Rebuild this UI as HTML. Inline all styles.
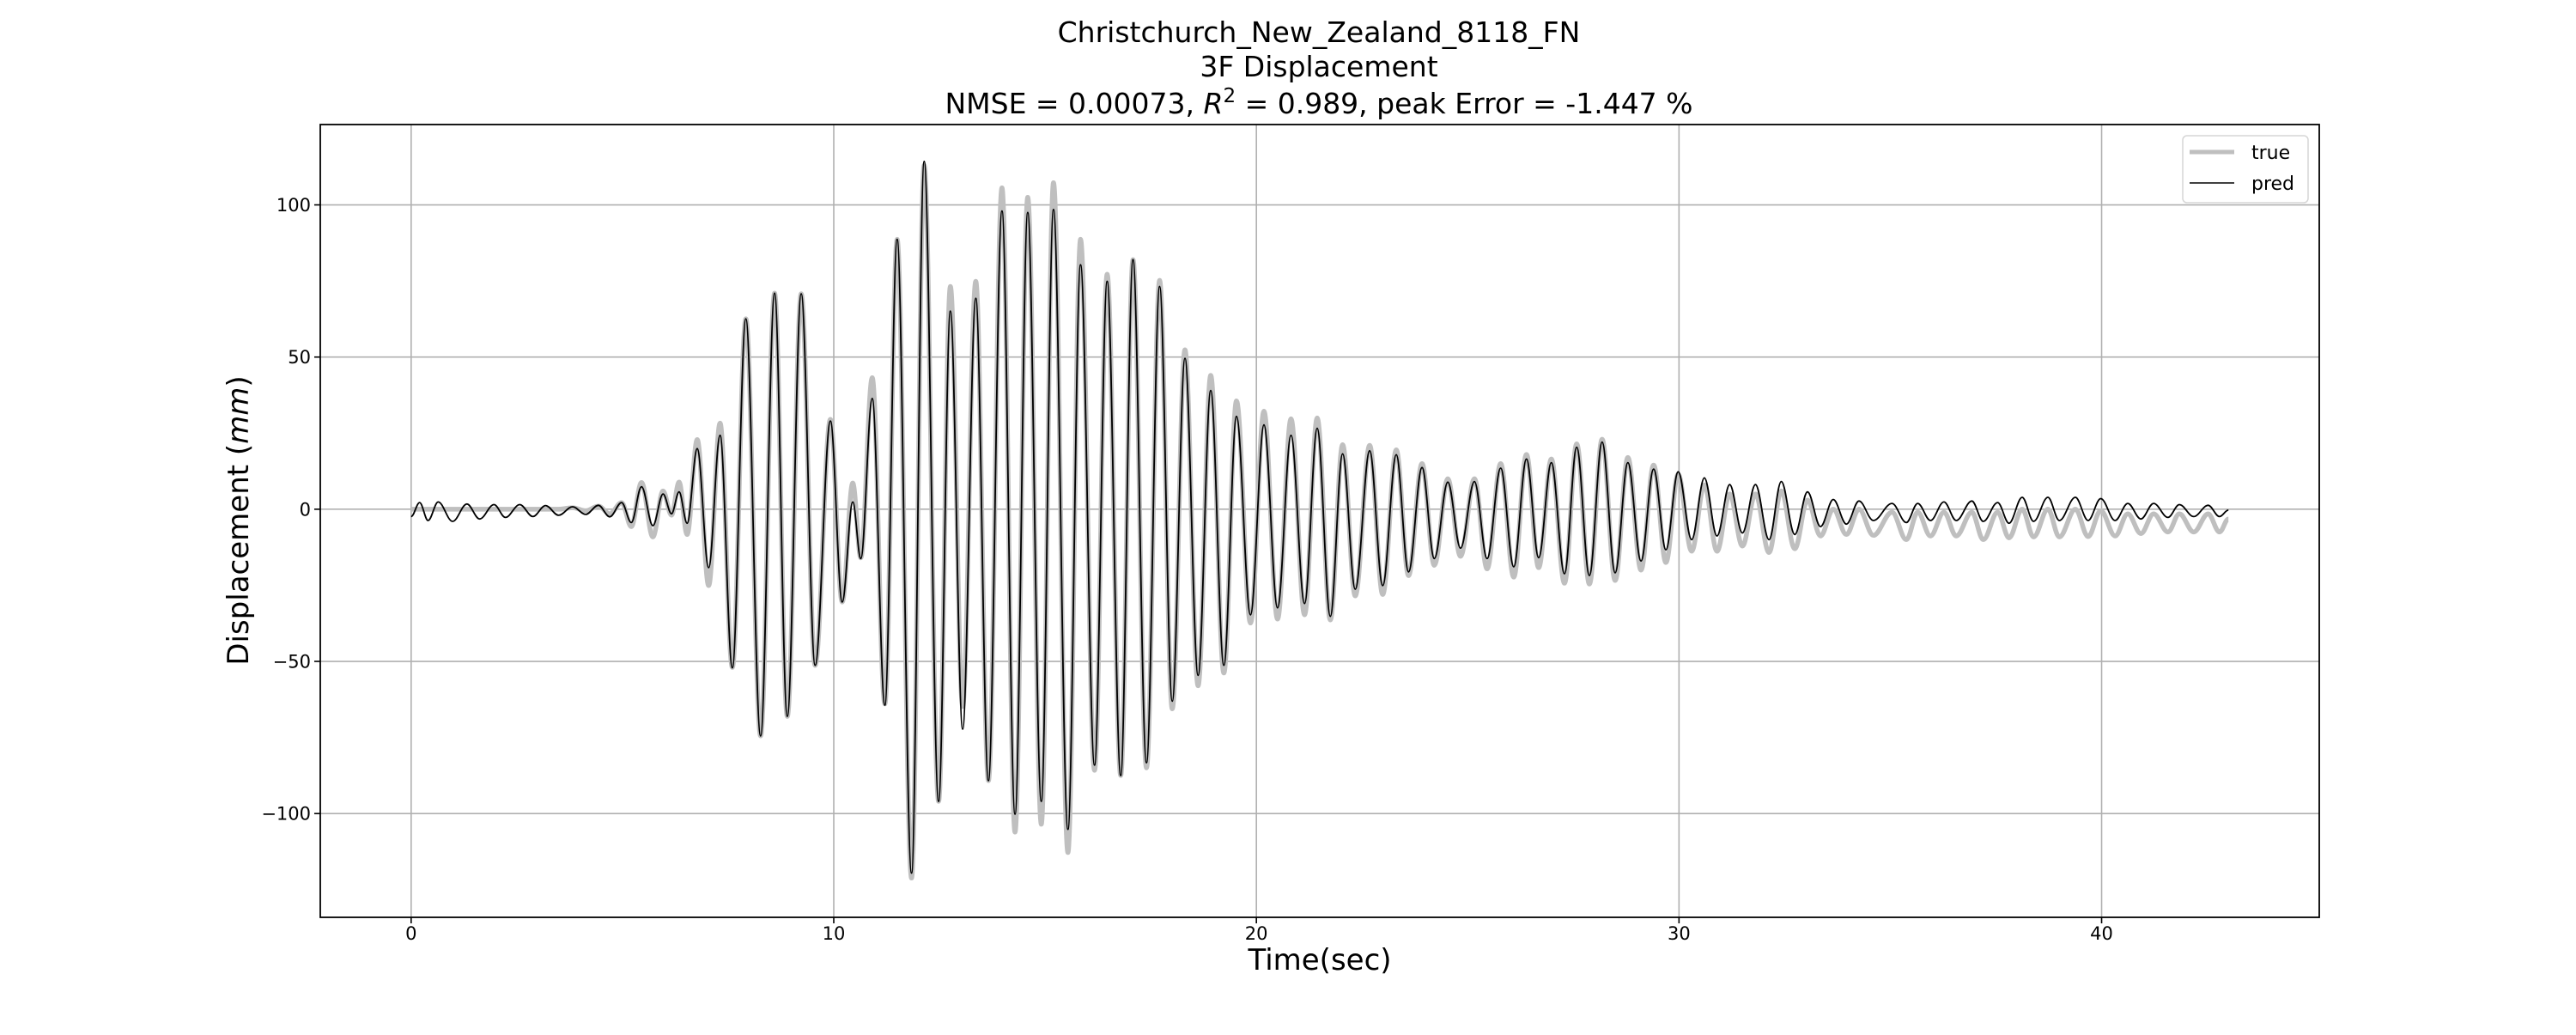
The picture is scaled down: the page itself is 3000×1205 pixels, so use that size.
<!DOCTYPE html>
<html><head><meta charset="utf-8">
<style>
html,body{margin:0;padding:0;background:#fff;}
svg text{font-family:"DejaVu Sans","Liberation Sans",sans-serif;fill:#000;}
</style></head>
<body>
<svg id="chart" xmlns="http://www.w3.org/2000/svg" width="3000" height="1200" viewBox="0 0 3000 1200">
<rect x="0" y="0" width="3000" height="1200" fill="#fff"/>
<g id="title" text-anchor="middle" font-size="33">
<text x="1536" y="49">Christchurch_New_Zealand_8118_FN</text>
<text x="1536" y="89">3F Displacement</text>
<text x="1536" y="132">NMSE = 0.00073, <tspan font-style="italic">R</tspan><tspan dy="-13" font-size="23">2</tspan><tspan dy="13"> = 0.989, peak Error = -1.447 %</tspan></text>
</g>
<g id="grid"></g>
<g id="series"></g>
<rect x="373" y="145" width="2328" height="923" fill="none" stroke="#000" stroke-width="1.8"/>
<g id="xticks"></g>
<g id="yticks"></g>
<text x="1537" y="1129" font-size="34" text-anchor="middle">Time(sec)</text>
<text x="0" y="0" font-size="34" text-anchor="middle" transform="translate(289,606) rotate(-90)">Displacement (<tspan font-style="italic">mm</tspan>)</text>
<g>
<rect x="2542" y="158" width="146" height="78" rx="5" fill="#fff" fill-opacity="0.8" stroke="#d6d6d6" stroke-width="1.5"/>
<line x1="2550" y1="177" x2="2602" y2="177" stroke="#bfbfbf" stroke-width="5"/>
<text x="2622" y="185" font-size="22">true</text>
<line x1="2550" y1="213" x2="2602" y2="213" stroke="#000" stroke-width="1.6"/>
<text x="2622" y="221" font-size="22">pred</text>
</g>
</svg>
<script>
const times=[0,0.20,0.40,0.64,0.98,1.32,1.62,1.96,2.23,2.57,2.88,3.18,3.49,3.82,4.13,4.43,4.70,4.98,5.21,5.45,5.72,5.96,6.16,6.34,6.53,6.77,7.04,7.31,7.60,7.92,8.27,8.60,8.90,9.23,9.56,9.92,10.20,10.45,10.64,10.91,11.21,11.50,11.84,12.14,12.48,12.76,13.05,13.36,13.66,13.98,14.29,14.59,14.91,15.20,15.54,15.84,16.17,16.47,16.79,17.08,17.40,17.71,18.01,18.31,18.62,18.92,19.23,19.53,19.86,20.18,20.50,20.82,21.14,21.44,21.75,22.04,22.34,22.68,22.99,23.31,23.60,23.92,24.21,24.53,24.83,25.16,25.46,25.78,26.09,26.39,26.68,26.98,27.29,27.58,27.88,28.18,28.49,28.79,29.10,29.40,29.69,29.98,30.30,30.60,30.90,31.20,31.50,31.81,32.13,32.42,32.74,33.04,33.35,33.65,33.96,34.26,34.60,35.04,35.38,35.65,35.95,36.27,36.56,36.93,37.20,37.54,37.81,38.12,38.39,38.73,39.00,39.38,39.68,39.98,40.32,40.62,40.93,41.23,41.57,41.84,42.18,42.52,42.79,43.00];
const trueVals=[0,0,0,0,0,0,0,0,0,0,0,0,0,0.5,-0.5,1,-1.5,2.2,-5.7,8.8,-9.1,6,-2,8.9,-8.3,22.9,-25.1,28.3,-52,62.6,-74.5,71,-68.1,70.8,-51.3,29.5,-30.5,8.6,-16,43.2,-64,88.7,-121.2,113,-96,73.2,-64.8,74.9,-89.2,105.6,-106.1,102.5,-103.5,107.3,-112.8,88.7,-85.8,77.2,-87.5,82,-85,75.2,-65.6,52.4,-58,44,-53.8,35.6,-37.4,32.2,-36.1,29.7,-34.7,30,-36.4,21.2,-28.5,21,-28,19.5,-21.8,15,-18.4,10,-15.5,10,-19.6,15,-22.3,18,-19.2,16.5,-24.3,21.5,-24.6,23,-23.4,17,-20,14.5,-17.5,11.5,-13.8,8,-13.8,5,-12.1,5,-14.2,6,-13,3,-8.8,0,-8.3,0,-8.6,-1,-10,-1,-8.8,-1,-8.8,-1,-10,-1,-9.4,0,-9.1,0,-9.1,0,-9,-0.5,-8.8,-1.5,-8,-1.5,-7.5,-1.5,-7.5,-1.5,-7.5,-3.2];
const predVals=[-2.4,2.2,-3.7,2.4,-4,1.7,-3.2,1.5,-2.7,1.5,-2.4,1.2,-2,0.8,-1.7,1.3,-2.5,2.2,-4.4,7.4,-5.4,5,-1.5,5.7,-4.6,19.9,-19.2,24.3,-52.1,62.6,-74.5,71,-68.1,70.8,-51.3,29,-30.5,2.4,-16.2,36.4,-64.4,88.7,-119.6,114.3,-96,65.1,-72.3,69.3,-89.2,98,-100.2,97.5,-96,98.5,-105.2,80.3,-84.1,74.9,-87.5,82,-83.3,73.2,-63.1,49.6,-54.6,39,-51.3,30.5,-34.7,27.7,-32.4,24.3,-31,26.6,-35.2,18.2,-26.3,19.2,-25.1,17.9,-20.6,13.7,-16.2,8.9,-12.8,9.1,-16.2,13.5,-18.9,16.5,-15.9,15.3,-21.2,20.4,-21.8,22.1,-20.9,15.3,-17,13.2,-13.3,12.3,-10,10.3,-8.8,8.1,-7.8,8.1,-10,9.1,-8.3,5.7,-5.7,3.2,-4.9,2.7,-3.7,1.9,-4.4,1.9,-3.7,2.4,-3.7,2.7,-4,2.2,-4.6,3.9,-4,3.9,-3.7,3.9,-3.7,3.5,-3.7,1.9,-3.2,1.9,-2.7,1.5,-2.4,1.3,-2.4,-0.3];
const xTickVals=[0,10,20,30,40];
const xTickLabels=["0","10","20","30","40"];
const yTickVals=[-100,-50,0,50,100];
const yTickLabels=["\u2212100","\u221250","0","50","100"];

const NS="http://www.w3.org/2000/svg";
const AX={left:373,right:2701,top:145,bottom:1068};
const X0=-2.15,X1=45.15,Y0=-134.1,Y1=126.4;
function sx(t){return AX.left+(t-X0)/(X1-X0)*(AX.right-AX.left);}
function sy(v){return AX.bottom-(v-Y0)/(Y1-Y0)*(AX.bottom-AX.top);}
function mk(tag,attrs,parent){const e=document.createElementNS(NS,tag);for(const k in attrs)e.setAttribute(k,attrs[k]);parent.appendChild(e);return e;}

const grid=document.getElementById('grid');
const xt=document.getElementById('xticks');
const yt=document.getElementById('yticks');
xTickVals.forEach((v,i)=>{
  const X=sx(v);
  const g=mk('line',{x1:X,y1:AX.top,x2:X,y2:AX.bottom,stroke:'#b0b0b0','stroke-width':1.6},grid);
  
  
  const tk=mk('line',{x1:X,y1:AX.bottom,x2:X,y2:AX.bottom+7,stroke:'#000','stroke-width':1.6},xt);
  
  
  const tl=mk('text',{x:X,y:1094,'font-size':21,'text-anchor':'middle'},xt);
  tl.textContent=xTickLabels[i];
  
  
});
yTickVals.forEach((v,i)=>{
  const Y=sy(v);
  const g=mk('line',{x1:AX.left,y1:Y,x2:AX.right,y2:Y,stroke:'#b0b0b0','stroke-width':1.6},grid);
  
  
  const tk=mk('line',{x1:AX.left-7,y1:Y,x2:AX.left,y2:Y,stroke:'#000','stroke-width':1.6},yt);
  
  
  const tl=mk('text',{x:AX.left-11,y:Y+7.5,'font-size':21,'text-anchor':'end'},yt);
  tl.textContent=yTickLabels[i];
  
  
});

function buildPath(ts,vs){
  let d='M'+sx(ts[0]).toFixed(1)+','+sy(vs[0]).toFixed(1);
  for(let i=1;i<ts.length;i++){
    const xa=sx(ts[i-1]),xb=sx(ts[i]),ya=sy(vs[i-1]),yb=sy(vs[i]);
    const dx=(xb-xa)*0.36;
    d+=' C'+(xa+dx).toFixed(1)+','+ya.toFixed(1)+' '+(xb-dx).toFixed(1)+','+yb.toFixed(1)+' '+xb.toFixed(1)+','+yb.toFixed(1);
  }
  return d;
}
const series=document.getElementById('series');
const pt=mk('path',{d:buildPath(times,trueVals),fill:'none',stroke:'#bfbfbf','stroke-width':5.5,'stroke-linejoin':'round','stroke-linecap':'butt'},series);


const pp=mk('path',{d:buildPath(times,predVals),fill:'none',stroke:'#000','stroke-width':1.8,'stroke-linejoin':'round'},series);


</script>
</body></html>
